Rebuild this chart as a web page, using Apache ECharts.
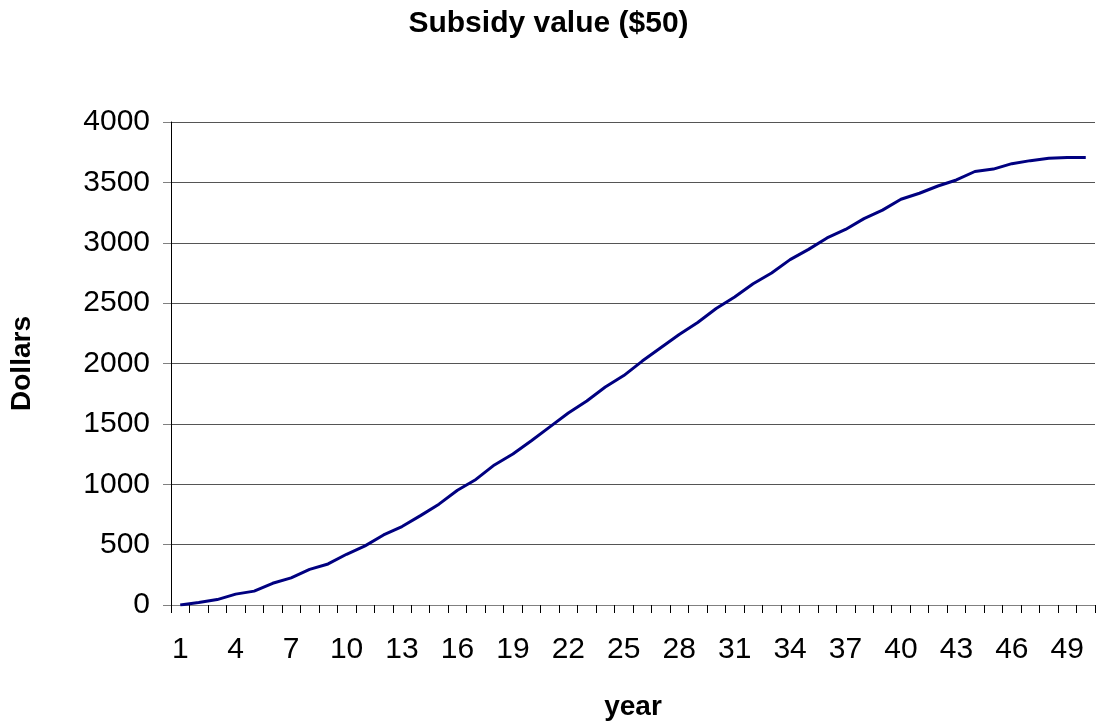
<!DOCTYPE html>
<html>
<head>
<meta charset="utf-8">
<script src="https://cdn.jsdelivr.net/npm/echarts@6/dist/echarts.min.js"></script>
<style>
  html, body { margin: 0; padding: 0; background: #fff; }
  #chart { width: 1097px; height: 723px; }
</style>
</head>
<body>
<div id="chart"></div>
<script>
// Cumulative subsidy value by year
const years = Array.from({ length: 50 }, (_, i) => String(i + 1));
const subsidyValues = [
  0, 20, 45, 90, 115, 180, 225, 295, 340, 420,
  490, 580, 650, 740, 835, 950, 1040, 1160, 1250, 1360,
  1475, 1590, 1690, 1805, 1900, 2020, 2130, 2240, 2340, 2455,
  2550, 2660, 2750, 2860, 2945, 3040, 3110, 3200, 3270, 3360,
  3410, 3470, 3520, 3590, 3610, 3655, 3680, 3700, 3705, 3705
];
const yTicks = [0, 500, 1000, 1500, 2000, 2500, 3000, 3500, 4000];

const font = '"Liberation Sans", Arial, sans-serif';
const chart = echarts.init(document.getElementById('chart'), null, { renderer: 'canvas' });

chart.setOption({
  animation: false,
  backgroundColor: '#ffffff',
  title: {
    text: 'Subsidy value ($50)',
    left: 'center',
    top: 4,
    textStyle: { fontFamily: font, fontSize: 30, fontWeight: 'bold', color: '#000' }
  },
  grid: {
    left: 171, right: 2, top: 122, bottom: 118,
    containLabel: false,
    outerBoundsMode: 'none'
  },
  xAxis: {
    type: 'category',
    data: years,
    boundaryGap: true,
    name: 'year',
    nameLocation: 'middle',
    nameGap: 88,
    nameTextStyle: { fontFamily: font, fontSize: 28, fontWeight: 'bold', color: '#000' },
    axisLine: { lineStyle: { color: '#808080', width: 1 } },
    axisTick: { show: true, interval: 0, length: 8, lineStyle: { color: '#000' } },
    axisLabel: {
      interval: 2,
      margin: 30,
      fontFamily: font,
      fontSize: 30,
      color: '#000'
    },
    splitLine: { show: false }
  },
  yAxis: {
    type: 'value',
    min: yTicks[0],
    max: yTicks[yTicks.length - 1],
    interval: yTicks[1] - yTicks[0],
    name: 'Dollars',
    nameLocation: 'middle',
    nameGap: 135,
    nameRotate: 90,
    nameTextStyle: { fontFamily: font, fontSize: 28, fontWeight: 'bold', color: '#000' },
    axisLine: { show: true, lineStyle: { color: '#000', width: 1 } },
    axisTick: { show: true, length: 8, lineStyle: { color: '#808080' } },
    axisLabel: {
      margin: 21,
      fontFamily: font,
      fontSize: 30,
      color: '#000',
      formatter: (v) => String(v)
    },
    splitLine: { show: true, lineStyle: { color: '#555555', width: 1 } }
  },
  series: [{
    type: 'line',
    data: subsidyValues,
    symbol: 'none',
    smooth: false,
    lineStyle: { color: '#000080', width: 3 }
  }]
});
</script>
</body>
</html>
